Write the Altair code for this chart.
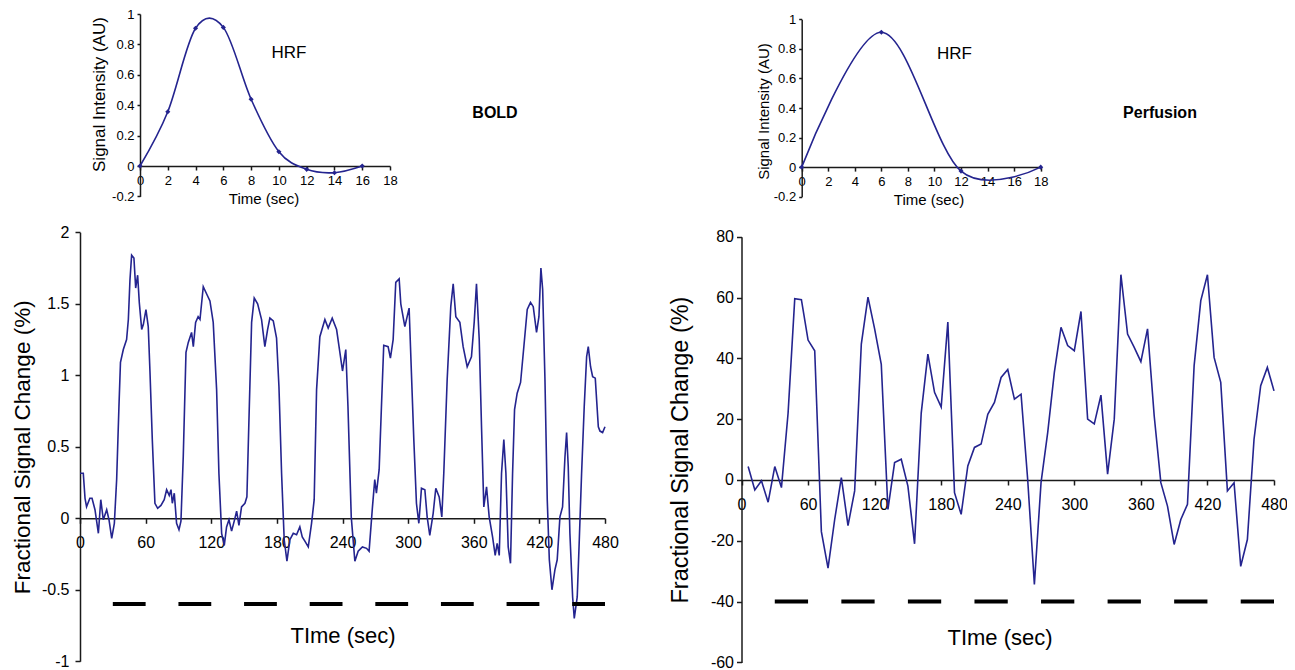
import altair as alt
import pandas as pd

NAVY = "#24248f"
FONT = "Liberation Sans"
AXC = "#1a1a1a"
W, H = 1279, 662   # one view, panels are placed through their scale ranges (pixels)

# ---------------- HRF insets ----------------
hrf_bold_t = [0, 2, 4, 6, 8, 10, 12, 14, 16]
hrf_bold_v = [0, 0.357, 0.906, 0.912, 0.439, 0.094, -0.022, -0.044, 0]
hrf_perf_t = [0, 6, 12, 18]
hrf_perf_v = [0, 0.912, -0.027, 0]

# ---------------- BOLD time series ----------------
bold_t = [0, 3, 4.6, 6, 9, 11, 13.7, 16.8, 19, 21.3, 24.4, 26.5, 29, 31.4, 33.5, 35.6, 37, 39.6,
          42.6, 44.2, 45.7, 47.2, 49.3, 50.9, 52.7, 54.2, 56.4, 57.9, 60.3, 62.4, 64, 66.1, 68.5,
          71, 74, 77, 79.2, 81.6, 83.2, 84.4, 86.2, 88.3, 90.5, 92.3, 94.4, 96.9, 99, 102, 103.6,
          105.7, 108, 109.7, 112.7, 115.7, 118.8, 121.8, 124.9, 127, 129.5, 131.9, 134, 136.2,
          138.6, 141, 143.2, 145.3, 147.7, 150.8, 152.6, 154.4, 156.9, 159.3, 162.4, 166, 169,
          171.5, 173.6, 176.7, 179.7, 181.9, 184.3, 186.7, 189.2, 191.9, 195, 198, 201, 203.2,
          205.6, 208.7, 211.7, 214.1, 216.3, 219.3, 223.9, 226.9, 230.6, 234.6, 237.6,
          240, 243, 245, 248, 251.3, 254.3, 258.2, 262, 264.3, 267.4, 269.5, 271, 273.5, 275.6,
          277.7, 281.7, 283.8, 286.3, 288.7, 291.8, 293.3, 297, 300.9, 303, 305.2, 307.6, 309.8,
          312.2, 315.3, 317.4, 319.8, 322.9, 325.3, 328.4, 330.8, 332.6, 335.7, 339, 341.2, 343.6,
          347.3, 350.3, 354, 357.9, 360.4, 362.5, 365, 367.1, 369.2, 371.7, 374.1, 377.2, 379.6,
          381.4, 383.3, 385.4, 387.5, 389.4, 391.5, 393.6, 395.5, 397.3, 399.7, 402.8, 405.8,
          408.9, 411.9, 414.4, 417.4, 419.6, 421.4, 423, 425.1, 427.2, 429.1, 431.5, 434.2, 436.3,
          438.8, 441.2, 443.4, 444.9, 446.4, 447.9, 450.4, 451.9, 454.6, 456.5, 458.6, 461, 463.2,
          464.7, 466.8, 468.7, 471.1, 473.9, 475.4, 477.8, 480]
bold_v = [0.315, 0.315, 0.14, 0.08, 0.14, 0.14, 0.06, -0.105, 0.13, -0.01, 0.06, -0.01, -0.14,
          -0.035, 0.27, 0.78, 1.09, 1.18, 1.25, 1.39, 1.67, 1.84, 1.82, 1.61, 1.7, 1.51, 1.32,
          1.355, 1.46, 1.34, 1.02, 0.55, 0.105, 0.07, 0.09, 0.13, 0.2, 0.16, 0.2, 0.105, 0.175,
          -0.035, -0.08, -0.02, 0.43, 1.16, 1.23, 1.3, 1.2, 1.37, 1.41, 1.39, 1.62, 1.57, 1.52,
          1.37, 0.9, 0.315, -0.105, -0.19, -0.06, -0.01, -0.09, -0.02, 0.05, -0.05, 0.08, 0.105,
          0.15, 0.67, 1.37, 1.54, 1.5, 1.39, 1.2, 1.32, 1.4, 1.38, 1.26, 0.92, 0.315, -0.15, -0.30,
          -0.15, -0.105, -0.115, -0.06, -0.13, -0.16, -0.2, -0.035, 0.13, 0.9, 1.27, 1.39, 1.33,
          1.4, 1.32, 1.16,
          1.03, 1.18, 0.78, 0.01, -0.30, -0.23, -0.2, -0.21, -0.23, 0.08, 0.27, 0.175, 0.34, 0.78,
          1.21, 1.2, 1.12, 1.25, 1.65, 1.675, 1.5, 1.34, 1.47, 1.02, 0.55, 0.105, -0.035, 0.21,
          0.2, 0.01, -0.12, 0.035, 0.21, 0.15, 0.01, 0.315, 0.97, 1.48, 1.64, 1.41, 1.37, 1.2,
          1.06, 1.13, 1.37, 1.64, 1.25, 0.64, 0.08, 0.22, 0.01, -0.13, -0.26, -0.175, -0.26, 0.315,
          0.55, 0.315, -0.2, -0.315, 0.315, 0.76, 0.875, 0.95, 1.2, 1.46, 1.51, 1.48, 1.3, 1.41,
          1.75, 1.6, 0.97, 0.13, -0.29, -0.5, -0.36, -0.29, 0.01, 0.08, 0.43, 0.6, 0.36, -0.105,
          -0.55, -0.7, -0.55, -0.15, 0.315, 0.78, 1.13, 1.2, 1.06, 0.99, 0.98, 0.64, 0.61, 0.6,
          0.64]

# ---------------- Perfusion time series ----------------
perf_t = [6, 12, 18, 24, 30, 36, 42, 48, 54, 60, 66, 72, 78, 84, 90, 96, 102, 108, 114, 120,
          126, 132, 138, 144, 150, 156, 162, 168, 174, 180, 186, 192, 198, 204, 210, 216, 222,
          228, 234, 240, 246, 252, 258, 264, 270, 276, 282, 288, 294, 300, 306, 312, 318, 324,
          330, 336, 342, 348, 354, 360, 366, 372, 378, 384, 390, 396, 402, 408, 414, 420, 426,
          432, 438, 444, 450, 456, 462, 468, 474, 480]
perf_v = [4.4, -3.3, -0.3, -7.3, 4.4, -2.5, 22, 59.6, 59.3, 46, 42.5, -17, -29, -13, 0.8, -15,
          -3.6, 44.7, 60.1, 49.7, 38, -9.7, 5.7, 6.8, -2, -21, 22, 41.4, 28.8, 24, 51.9, -4.2,
          -11.3, 4.6, 10.7, 11.8, 21.6, 25.5, 33.7, 36.3, 26.6, 28.2, 0, -34.4, -0.9, 15.6, 35.4,
          50.2, 44.2, 42.5, 55.4, 20, 18.4, 27.9, 1.9, 20, 67.5, 48, 43.6, 38.9, 49.7, 21.1, -0.9,
          -8.6, -21.2, -13, -8, 37.6, 59, 67.5, 40.3, 32.1, -3.6, -0.9, -28.4, -19.6, 13.4, 31,
          37, 29.3]

# ---------------- Stimulus blocks ----------------
block_start = [30, 90, 150, 210, 270, 330, 390, 450]
block_end = [60, 120, 180, 240, 300, 360, 420, 480]
bold_block_level = -0.6
perf_block_level = -40

assert len(bold_t) == len(bold_v)
assert len(perf_t) == len(perf_v)

df_hb = pd.DataFrame({"t": hrf_bold_t, "v": hrf_bold_v})
df_hp = pd.DataFrame({"t": hrf_perf_t, "v": hrf_perf_v})
df_b = pd.DataFrame({"t": bold_t, "v": bold_v})
df_p = pd.DataFrame({"t": perf_t, "v": perf_v})
df_bb = pd.DataFrame({"t": block_start, "t2": block_end, "v": [bold_block_level] * len(block_start)})
df_pb = pd.DataFrame({"t": block_start, "t2": block_end, "v": [perf_block_level] * len(block_start)})
one = pd.DataFrame({"a": [0]})

LBL = "'' + datum.value"


def txt(s, x, y, size, weight="normal"):
    return alt.Chart(one).mark_text(text=s, fontSize=size, fontWeight=weight, font=FONT,
                                    color="black", align="center", baseline="middle"
                                    ).encode(x=alt.value(x), y=alt.value(y))


def hrf_panel(df, xr, yr, xaxis_y, ytpad, ytsize, ty):
    x_enc = alt.X("t:Q", scale=alt.Scale(domain=[0, 18], range=xr, nice=False, zero=False),
                  axis=alt.Axis(orient="bottom", offset=xaxis_y - H,
                                values=list(range(0, 19, 2)), title=None,
                                tickSize=4, labelPadding=4, labelFontSize=13,
                                labelFlush=False, labelExpr=LBL))
    y_enc = alt.Y("v:Q", scale=alt.Scale(domain=[-0.2, 1], range=yr, nice=False, zero=False),
                  axis=alt.Axis(orient="left", offset=-xr[0],
                                values=[-0.2, 0, 0.2, 0.4, 0.6, 0.8, 1],
                                title="Signal Intensity (AU)", titleFontSize=ytsize,
                                titlePadding=ytpad, titleY=ty, tickSize=3, labelPadding=3,
                                labelFontSize=13, labelExpr=LBL))
    base = alt.Chart(df)
    line = base.mark_line(interpolate="cardinal", color=NAVY, strokeWidth=1.6).encode(x=x_enc, y=y_enc)
    pts = base.mark_point(shape="diamond", filled=True, size=26, color=NAVY,
                          opacity=1).encode(x=x_enc, y=y_enc)
    return alt.layer(line, pts)


def main_panel(df, dfb, xr, yr, domain, yvals, xaxis_y, ypad, ytpad, ytsize):
    x_enc = alt.X("t:Q", scale=alt.Scale(domain=[0, 480], range=xr, nice=False, zero=False),
                  axis=alt.Axis(orient="bottom", offset=xaxis_y - H,
                                values=list(range(0, 481, 60)), title=None,
                                tickSize=5, labelPadding=11, labelFontSize=16,
                                labelFlush=False, labelExpr=LBL))
    y_enc = alt.Y("v:Q", scale=alt.Scale(domain=domain, range=yr, nice=False, zero=False),
                  axis=alt.Axis(orient="left", offset=-xr[0], values=yvals,
                                title="Fractional Signal Change (%)",
                                titleFontSize=ytsize, titlePadding=ytpad, tickSize=5,
                                labelPadding=ypad, labelFontSize=16, labelExpr=LBL))
    line = alt.Chart(df).mark_line(color=NAVY, strokeWidth=1.6).encode(x=x_enc, y=y_enc)
    bars = alt.Chart(dfb).mark_rule(color="black", strokeWidth=4).encode(
        x=x_enc, x2="t2:Q", y=y_enc)
    return alt.layer(line, bars)


# pixel rectangles (page coordinates minus the 8px margin)
hb = hrf_panel(df_hb, [132, 382], [188.4, 6], 158, 3, 17, 86)
hp = hrf_panel(df_hp, [793.7, 1032.7], [188.7, 11.3], 159.1, 2, 15, 103)
mb = main_panel(df_b, df_bb, [72, 597], [653.3, 224.3], [-1, 2],
                [-1, -0.5, 0, 0.5, 1, 1.5, 2], 510.3, 6, 7, 22.5)
mp = main_panel(df_p, df_pb, [733.5, 1266], [654.4, 228.7], [-60, 80],
                [-60, -40, -20, 0, 20, 40, 60, 80], 472, 3, 18, 23.5)

texts = alt.layer(
    txt("HRF", 281, 44.5, 17),
    txt("HRF", 946.5, 46, 17),
    txt("BOLD", 487, 105, 16, "bold"),
    txt("Perfusion", 1152, 105, 16, "bold"),
    txt("Time (sec)", 256, 191, 15),
    txt("Time (sec)", 921, 192, 15),
    txt("TIme (sec)", 335, 628, 22),
    txt("TIme (sec)", 992, 630, 22),
)

chart = alt.layer(hb, hp, mb, mp, texts).resolve_scale(
    x="independent", y="independent"
).properties(
    width=W, height=H, padding=0,
    autosize=alt.AutoSizeParams(type="none")
).configure_view(stroke="transparent").configure_axis(
    labelFont=FONT, titleFont=FONT, domainColor=AXC, tickColor=AXC,
    labelColor="black", titleColor="black", titleFontWeight="normal",
    domainWidth=1.5, tickWidth=1.5, grid=False
)

chart.save("out.html", embed_options={"renderer": "svg", "actions": False})
